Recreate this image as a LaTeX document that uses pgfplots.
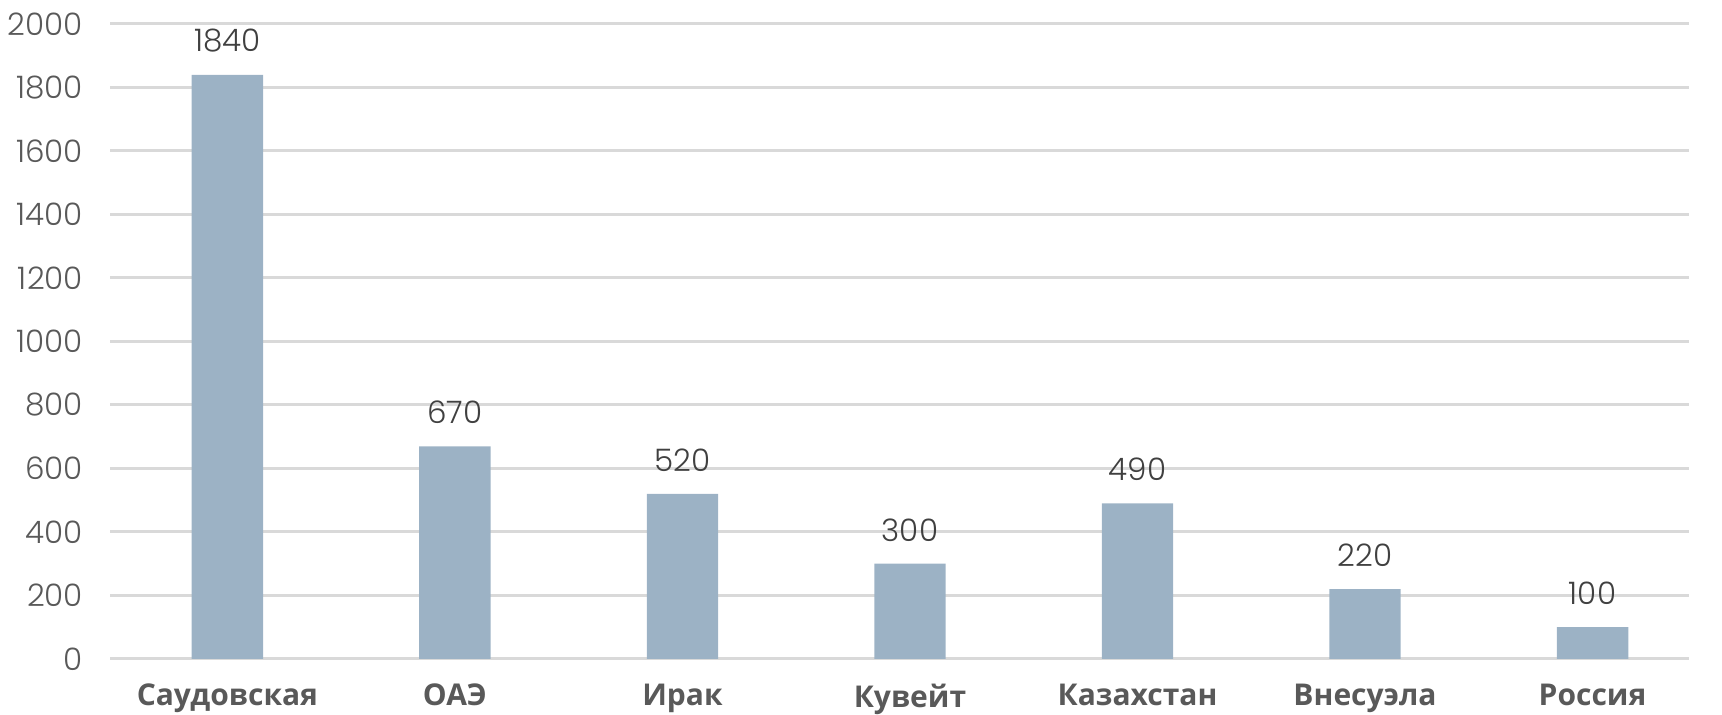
\documentclass[border=0pt]{standalone}
\usepackage{pgfplots}
\pgfplotsset{compat=1.18}
\usepackage{fontspec}
\setmainfont{Open Sans}
\newfontfamily\numfont{Poppins Light}
\definecolor{barcol}{HTML}{9CB2C5}
\definecolor{gridcol}{HTML}{D9D9D9}
\definecolor{tickcol}{HTML}{595959}
\definecolor{valcol}{HTML}{404040}

\begin{document}
\begin{tikzpicture}
\useasboundingbox (0,0) rectangle (861pt,357.5pt);
\begin{axis}[
    at={(55pt,28pt)}, anchor=south west,
    width=789.5pt, height=317.5pt, scale only axis,
    xmin=-0.516, xmax=6.424, ymin=0, ymax=2000,
    ytick={0,200,...,2000},
    xtick=data,
    xticklabels={Саудовская,ОАЭ,Ирак,Кувейт,Казахстан,Внесуэла,Россия},
    axis line style={draw=none},
    major tick length=0pt,
    ymajorgrids, grid style={gridcol, line width=1.5pt},
    yticklabel style={font=\numfont\fontsize{15.5}{18}\selectfont, text=tickcol, xshift=-10pt},
    xticklabel style={font=\bfseries\fontsize{15}{18}\selectfont, text=tickcol, yshift=-9pt},
    /pgf/number format/assume math mode=true,
    /pgf/number format/1000 sep={},
    ybar, bar width=35.7pt,
    nodes near coords,
    every node near coord/.append style={font=\numfont\fontsize{15.5}{18}\selectfont, text=valcol, anchor=south, inner sep=0pt, yshift=11pt},
]
\addplot[fill=barcol, draw=none] coordinates {
    (0,1840) (1,670) (2,520) (3,300) (4,490) (5,220) (6,100)
};
\end{axis}
\end{tikzpicture}
\end{document}
